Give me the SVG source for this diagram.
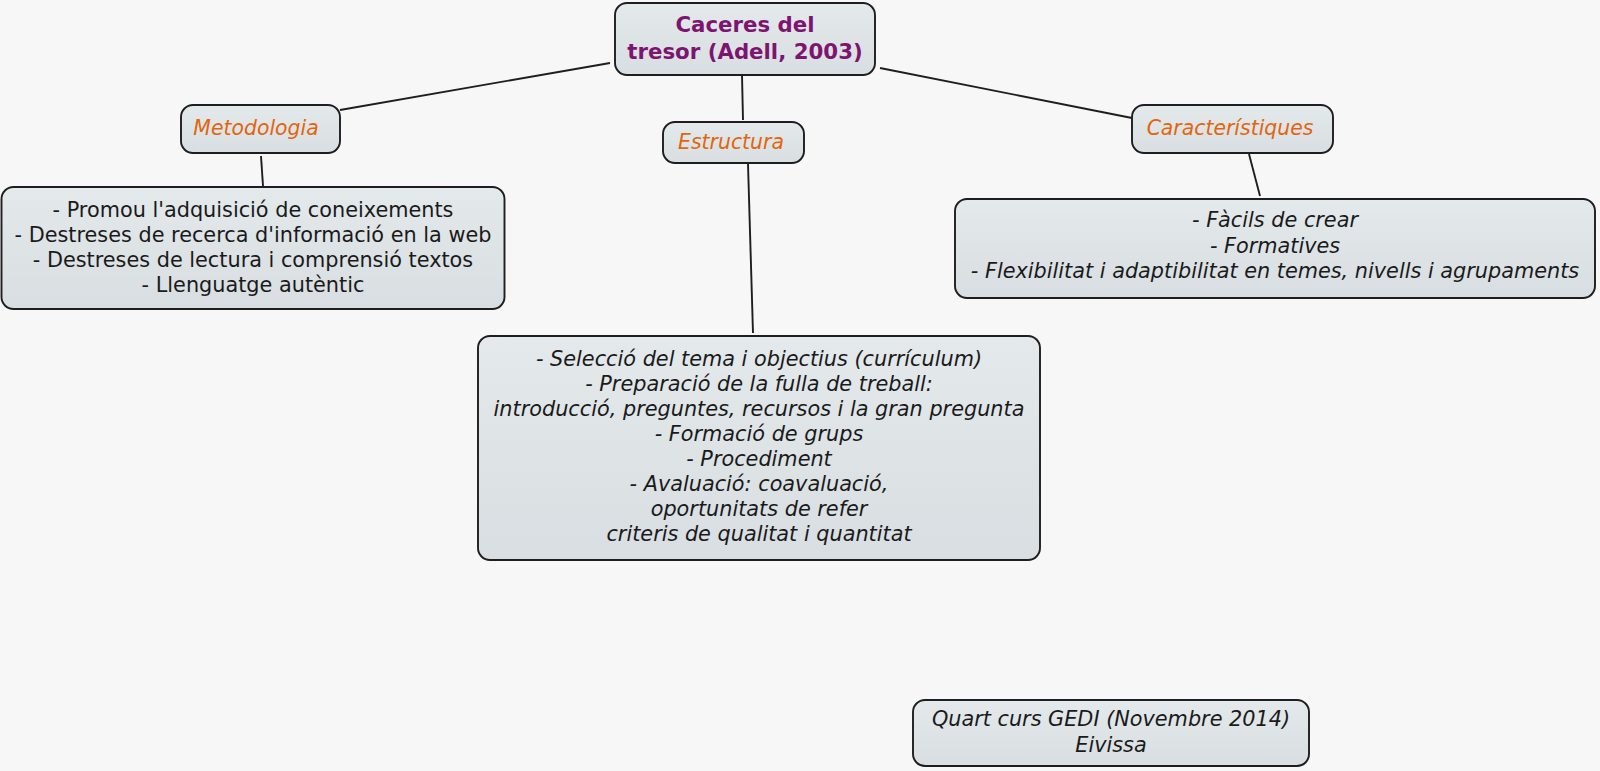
<svg xmlns="http://www.w3.org/2000/svg" width="1600" height="771" viewBox="0 0 1600 771">
<defs>
<linearGradient id="g" x1="0" y1="0" x2="0" y2="1">
<stop offset="0" stop-color="#e4e9eb"/>
<stop offset="1" stop-color="#d8dee1"/>
</linearGradient>
<style>
.box{fill:url(#g);stroke:#1e1e1e;stroke-width:1.9}
.t{font-family:"DejaVu Sans",Verdana,sans-serif;font-size:20.8px;fill:#1a1a1a;text-anchor:middle}
.i{font-style:italic}
.root{font-family:"DejaVu Sans",Verdana,sans-serif;font-size:21.3px;font-weight:bold;fill:#7d1570;text-anchor:middle}
.lab{font-family:"DejaVu Sans",Verdana,sans-serif;font-size:20.4px;font-style:italic;fill:#e0660f;text-anchor:middle}
.c{stroke:#1e1e1e;stroke-width:1.9;fill:none}
</style>
</defs>
<rect width="1600" height="771" fill="#f7f7f7"/>
<g id="connectors">
<line class="c" x1="610" y1="63" x2="340" y2="110"/>
<line class="c" x1="742" y1="75" x2="743" y2="120"/>
<line class="c" x1="880" y1="68" x2="1132" y2="118"/>
<line class="c" x1="261" y1="156" x2="263" y2="186"/>
<line class="c" x1="748" y1="164" x2="753" y2="333"/>
<line class="c" x1="1249" y1="154" x2="1260" y2="196"/>
</g>
<g id="root">
<rect class="box" x="615" y="3" width="260" height="72" rx="12"/>
<text class="root" x="745" y="32">Caceres del</text>
<text class="root" x="745" y="59">tresor (Adell, 2003)</text>
</g>
<g id="metodologia">
<rect class="box" x="181" y="105" width="159" height="48" rx="12"/>
<text class="lab" x="256" y="135">Metodologia</text>
</g>
<g id="estructura">
<rect class="box" x="663" y="122" width="141" height="41" rx="12"/>
<text class="lab" x="731" y="149">Estructura</text>
</g>
<g id="caracteristiques">
<rect class="box" x="1132" y="105" width="201" height="48" rx="12"/>
<text class="lab" x="1230" y="135">Característiques</text>
</g>
<g id="metodologia-content">
<rect class="box" x="1.5" y="187" width="503" height="122" rx="12"/>
<text class="t" x="253" y="217">- Promou l'adquisició de coneixements</text>
<text class="t" x="253" y="242">- Destreses de recerca d'informació en la web</text>
<text class="t" x="253" y="267">- Destreses de lectura i comprensió textos</text>
<text class="t" x="253" y="292">- Llenguatge autèntic</text>
</g>
<g id="caracteristiques-content">
<rect class="box" x="955" y="199" width="640" height="99" rx="12"/>
<text class="t i" x="1275" y="227">- Fàcils de crear</text>
<text class="t i" x="1275" y="253">- Formatives</text>
<text class="t i" x="1275" y="278">- Flexibilitat i adaptibilitat en temes, nivells i agrupaments</text>
</g>
<g id="estructura-content">
<rect class="box" x="478" y="336" width="562" height="224" rx="12"/>
<text class="t i" x="759" y="366">- Selecció del tema i objectius (currículum)</text>
<text class="t i" x="759" y="391">- Preparació de la fulla de treball:</text>
<text class="t i" x="759" y="416">introducció, preguntes, recursos i la gran pregunta</text>
<text class="t i" x="759" y="441">- Formació de grups</text>
<text class="t i" x="759" y="466">- Procediment</text>
<text class="t i" x="759" y="491">- Avaluació: coavaluació,</text>
<text class="t i" x="759" y="516">oportunitats de refer</text>
<text class="t i" x="759" y="541">criteris de qualitat i quantitat</text>
</g>
<g id="footer">
<rect class="box" x="913" y="700" width="396" height="66" rx="12"/>
<text class="t i" x="1111" y="726">Quart curs GEDI (Novembre 2014)</text>
<text class="t i" x="1111" y="752">Eivissa</text>
</g>
</svg>
